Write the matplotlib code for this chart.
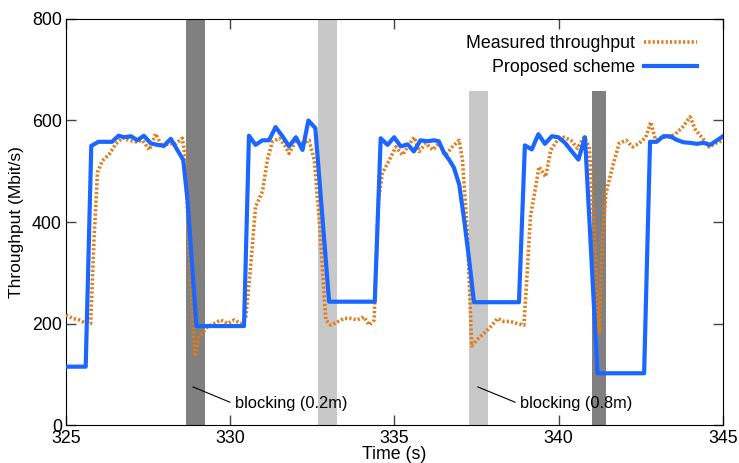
import matplotlib.pyplot as plt

plt.rcParams['font.family'] = ['Liberation Sans', 'DejaVu Sans']

# Proposed scheme (blue)
t_prop = [325.0, 325.60, 325.77, 325.99, 326.40, 326.60, 326.77, 326.98, 327.17, 327.37,
          327.58, 327.78, 327.98, 328.19, 328.39, 328.57, 328.70, 328.97, 330.42, 330.57,
          330.77, 330.98, 331.18, 331.38, 331.59, 331.79, 332.00, 332.20, 332.38, 332.59,
          333.01, 334.40, 334.58, 334.79, 334.99, 335.19, 335.40, 335.59, 335.79, 336.00,
          336.20, 336.35, 336.51, 336.66, 336.81, 336.97, 337.12, 337.27, 337.42, 338.79,
          338.97, 339.18, 339.38, 339.58, 339.79, 339.99, 340.19, 340.40, 340.60, 340.80,
          341.18, 342.60, 342.78, 342.98, 343.19, 343.39, 343.59, 343.80, 344.00, 344.21,
          344.41, 344.61, 344.82, 345.0]
v_prop = [115, 115, 550, 558, 558, 570, 567, 569, 561, 570,
          555, 552, 550, 564, 542, 522, 443, 195, 195, 570,
          552, 561, 561, 587, 569, 549, 567, 542, 600, 585,
          243, 243, 565, 552, 567, 549, 553, 539, 561, 559,
          561, 559, 536, 523, 507, 474, 405, 327, 242, 242,
          551, 543, 573, 554, 569, 567, 556, 539, 523, 567,
          102, 102, 558, 558, 569, 569, 562, 557, 556, 554,
          556, 552, 561, 569]

# Measured throughput (orange dotted)
t_meas = [325.0, 325.20, 325.40, 325.55, 325.75, 325.86, 325.96, 326.11, 326.31, 326.52,
          326.72, 326.92, 327.13, 327.33, 327.54, 327.73, 327.93, 328.14, 328.34, 328.54,
          328.63, 328.75, 328.93, 329.05, 329.15, 329.31, 329.51, 329.71, 329.92, 330.12,
          330.32, 330.47, 330.62, 330.77, 330.98, 331.13, 331.28, 331.49, 331.69, 331.79,
          332.00, 332.20, 332.40, 332.56, 332.71, 332.91, 333.06, 333.26, 333.46, 333.67,
          333.87, 334.07, 334.23, 334.38, 334.51, 334.63, 334.84, 335.04, 335.24, 335.40,
          335.60, 335.75, 335.96, 336.16, 336.35, 336.56, 336.76, 336.97, 337.07, 337.22,
          337.35, 337.53, 337.73, 337.93, 338.14, 338.33, 338.53, 338.74, 338.94, 339.04,
          339.14, 339.30, 339.40, 339.60, 339.76, 339.96, 340.16, 340.37, 340.57, 340.77,
          340.93, 341.08, 341.23, 341.33, 341.44, 341.64, 341.84, 342.05, 342.25, 342.45,
          342.65, 342.80, 342.95, 343.16, 343.36, 343.56, 343.77, 344.00, 344.17, 344.38,
          344.58, 344.78, 345.0]
v_meas = [217, 210, 207, 202, 200, 377, 498, 521, 533, 554,
          566, 561, 558, 561, 542, 574, 548, 555, 554, 565,
          529, 345, 135, 175, 181, 194, 200, 207, 200, 207,
          200, 210, 312, 430, 460, 522, 558, 565, 548, 535,
          561, 555, 561, 522, 404, 207, 197, 203, 210, 210,
          207, 213, 197, 207, 443, 496, 522, 548, 532, 548,
          567, 539, 555, 542, 555, 532, 548, 561, 522, 378,
          156, 169, 181, 194, 210, 204, 204, 200, 197, 299,
          411, 470, 509, 489, 542, 561, 567, 561, 545, 567,
          548, 378, 181, 365, 457, 509, 555, 561, 548, 555,
          567, 597, 561, 567, 567, 574, 587, 607, 581, 565,
          548, 555, 561]

# blocking periods: start, end, shade, top value
block_start = [328.65, 332.67, 337.27, 341.01]
block_end = [329.23, 333.25, 337.85, 341.44]
block_color = ['#808080', '#c8c8c8', '#c8c8c8', '#808080']
block_top = [800, 800, 658, 658]

fig = plt.figure(figsize=(7.39, 4.63), dpi=100)
ax = fig.add_axes([0.0893, 0.082, 0.889, 0.877])

for s, e, c, top in zip(block_start, block_end, block_color, block_top):
    ax.axvspan(s, e, ymin=0, ymax=top / 800, color=c, lw=0, zorder=1)

ax.plot(t_meas, v_meas, color='#e07b18', lw=2.6, ls=(0, (0.6, 0.6)),
        label='Measured throughput', zorder=3)
ax.plot(t_prop, v_prop, color='#1a66ff', lw=3, label='Proposed scheme', zorder=4)

# annotations
ax.plot([328.87, 329.99], [75, 45], color='black', lw=0.8, zorder=5)
ax.text(330.14, 43, 'blocking (0.2m)', fontsize=11.75, va='center', ha='left', zorder=6)
ax.plot([337.54, 338.67], [75, 45], color='black', lw=0.8, zorder=5)
ax.text(338.82, 43, 'blocking (0.8m)', fontsize=11.75, va='center', ha='left', zorder=6)

ax.set_xlim(325, 345)
ax.set_ylim(0, 800)
ax.set_xticks([325, 330, 335, 340, 345])
ax.set_yticks([0, 200, 400, 600, 800])
ax.tick_params(direction='in', top=True, right=True, length=7, width=1,
               color='#444444', labelsize=12.75)
ax.tick_params(axis='x', pad=3.5)
ax.tick_params(axis='y', pad=3)
ax.set_xlabel('Time (s)', fontsize=12.75, labelpad=-0.5)
ax.set_ylabel('Throughput (Mbit/s)', fontsize=12.5, labelpad=6)

ax.legend(loc='upper right', bbox_to_anchor=(0.985, 1.0), frameon=False,
          markerfirst=False, fontsize=12.75, handlelength=3.0, labelspacing=0.4,
          handletextpad=0.5)

fig.savefig('out.png', dpi=100)
